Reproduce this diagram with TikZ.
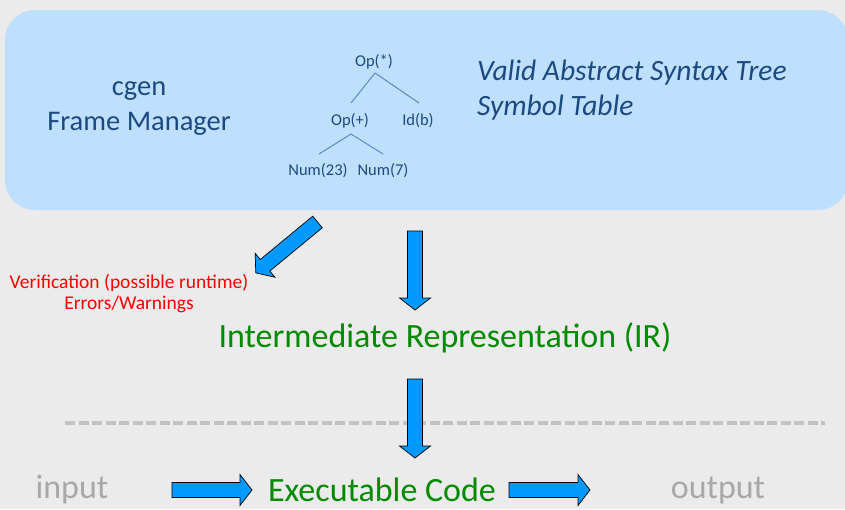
\documentclass[tikz,border=0pt]{standalone}
\usepackage{fontspec}
\setmainfont{Carlito}
\begin{document}
\begin{tikzpicture}[x=1pt,y=-1pt,
  inkblue/.style={text=astblue},
  fatarrow/.style={fill=arrowblue,draw=black,line width=0.7pt,line join=miter},
  treeedge/.style={draw=edgeblue,line width=1pt},
  treenode/.style={inkblue,font=\fontsize{16.5}{18}\selectfont,inner sep=0pt},
  bigtext/.style={font=\fontsize{34}{40}\selectfont,inner sep=0pt}]
\definecolor{bg}{HTML}{EBEBEB}
\definecolor{panel}{HTML}{BFDFFF}
\definecolor{astblue}{HTML}{1B4A80}
\definecolor{edgeblue}{HTML}{5A8AC0}
\definecolor{arrowblue}{HTML}{0099FF}
\definecolor{irgreen}{HTML}{008A00}
\definecolor{dimgray}{HTML}{A8A8A8}
\definecolor{dashgray}{HTML}{C2C2C2}

% canvas
\fill[bg] (0,0) rectangle (845,509);
\useasboundingbox (0,0) rectangle (845,509);

% front-end panel
\fill[panel,rounded corners=30pt] (5,10) rectangle (848,210);

\node[inkblue,font=\fontsize{28.5}{35}\selectfont,align=center,inner sep=0pt] (cgen) at (139,108.5)
  {cgen\\Frame Manager};

\node[inkblue,font=\fontsize{29.5}{35}\selectfont\itshape,align=left,anchor=west,inner sep=0pt] (valid) at (477,90.5)
  {Valid Abstract Syntax Tree\\Symbol Table};

% abstract syntax tree
\node[treenode] (mul) at (374,62) {Op(*)};
\node[treenode] (add) at (350,121) {Op(+)};
\node[treenode] (idb) at (418,121) {Id(b)};
\node[treenode] (n23) at (318,171) {Num(23)};
\node[treenode] (n7)  at (383,171) {Num(7)};
\draw[treeedge] (375,73) -- (351,103);
\draw[treeedge] (375,73) -- (419,103);
\draw[treeedge] (351,134) -- (319,154);
\draw[treeedge] (351,134) -- (383,154);

% block arrows: tail centre x, y, direction, length
\newcommand\fatarr[4]{%
  \begin{scope}[shift={(#1,#2)},rotate=#3]
    \draw[fatarrow] (0,-7.5) -- ({#4-12},-7.5) -- ({#4-12},-15.5) -- (#4,0)
      -- ({#4-12},15.5) -- ({#4-12},7.5) -- (0,7.5) -- cycle;
  \end{scope}}

\fatarr{317.5}{222}{219.5}{80}
\fatarr{415}{231}{-90}{79}

\node[text=red,font=\fontsize{19.5}{21.5}\selectfont,align=center,inner sep=0pt] (verif) at (129,293.5)
  {Verification (possible runtime)\\Errors/Warnings};

\node[bigtext,text=irgreen] (ir) at (445,338) {Intermediate Representation (IR)};

% dashed boundary, crossed by the code-generation arrow
\draw[dashgray,line width=3.5pt,dash pattern=on 10pt off 3.5pt] (65,423) -- (825,423);
\fatarr{415}{379}{-90}{79}

% execution row
\node[bigtext,text=dimgray] (input) at (72,490) {input};
\node[bigtext,text=irgreen] (exe) at (382,490) {Executable Code};
\node[bigtext,text=dimgray] (output) at (718,490) {output};
\fatarr{172}{490}{0}{80}
\fatarr{509}{490}{0}{81}
\end{tikzpicture}
\end{document}
